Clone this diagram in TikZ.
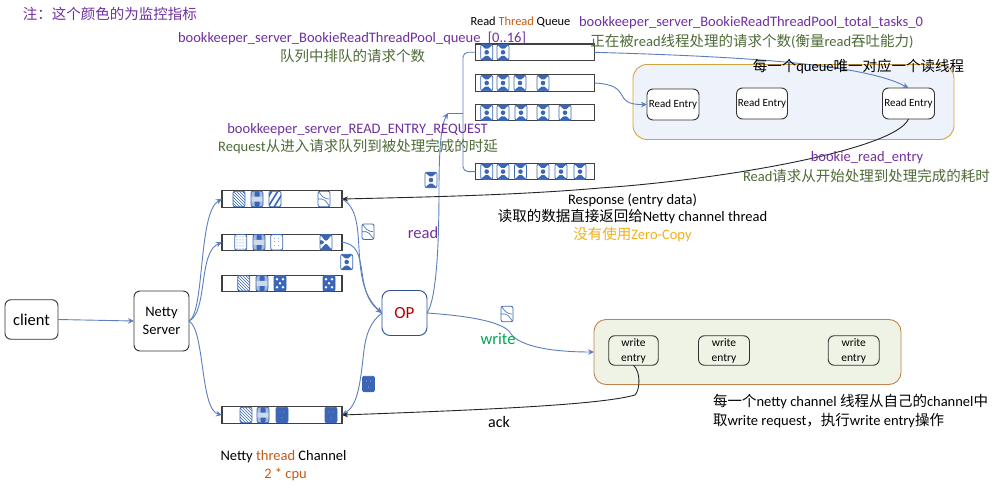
\documentclass[tikz,border=0pt]{standalone}
\usepackage{fontspec}
\setmainfont{Carlito}
\newfontfamily\cjkf{Noto Sans CJK SC}
\newcommand{\cj}[1]{{\cjkf #1}}
\usetikzlibrary{arrows.meta,patterns}
\definecolor{tokblue}{HTML}{3A66B5}
\definecolor{lineblue}{HTML}{5B7FBD}
\definecolor{mpurple}{HTML}{7030A0}
\definecolor{mgreen}{HTML}{4F6B38}
\definecolor{morange}{HTML}{C55A11}
\definecolor{mgold}{HTML}{F2B01E}
\definecolor{wgreen}{HTML}{00A651}
\definecolor{opred}{HTML}{B00000}
\definecolor{rpanelfill}{HTML}{EEF2FA}
\definecolor{rpaneldraw}{HTML}{D4A443}
\definecolor{wpanelfill}{HTML}{EEF3E6}
\definecolor{wpaneldraw}{HTML}{C8804A}
\tikzset{
  x=1pt,y=-1pt,
  flow/.style={draw=lineblue,line width=0.9pt},
  flowa/.style={flow,-{Stealth[length=6pt,width=5.5pt]}},
  back/.style={draw=black!85,line width=0.9pt},
  backa/.style={back,-{Stealth[length=6pt,width=5pt]}},
  rbox/.style={draw=black!80,line width=0.9pt,rounded corners=6pt,fill=white,inner sep=0pt,outer sep=0pt,align=center},
  qbox/.style={draw=black!75,line width=1.1pt,fill=white,inner sep=0pt,outer sep=0pt,minimum height=16.5pt},
  lq/.style={qbox,minimum width=120pt},
  rq/.style={qbox,minimum width=118.6pt},
  lab/.style={inner sep=0pt,outer sep=0pt,font=\fontsize{14.5}{17}\selectfont,align=center},
  tok/.style={draw=tokblue,line width=0.8pt,rounded corners=2pt,fill=white,inner sep=0pt,outer sep=0pt,minimum width=12pt,minimum height=15.5pt},
  tokrd/.style={tok,path picture={
     \fill[tokblue] (path picture bounding box.center) circle (2.3pt);
     \fill[tokblue] (path picture bounding box.north west) -- (path picture bounding box.north east) -- ([yshift=-5.5pt]path picture bounding box.north) -- cycle;
     \fill[tokblue] (path picture bounding box.south west) -- (path picture bounding box.south east) -- ([yshift=5.5pt]path picture bounding box.south) -- cycle;}},
  tokfine/.style={tok,pattern=north west lines,pattern color=tokblue},
  tokwide/.style={tok,path picture={
     \foreach \d in {-8,-2,4,10}{\draw[tokblue,line width=1.6pt] ([shift={(\d-5 pt,-8pt)}]path picture bounding box.center) -- ([shift={(\d+5 pt,8pt)}]path picture bounding box.center);}}},
  tokcurl/.style={tok,path picture={
     \draw[tokblue,line width=0.6pt] (path picture bounding box.north west) -- ([yshift=-7pt]path picture bounding box.north) -- ([xshift=-1pt]path picture bounding box.east) ;
     \draw[tokblue,line width=0.6pt] (path picture bounding box.west) -- (path picture bounding box.center) -- (path picture bounding box.south east);}},
  tokplaid/.style={tok,path picture={
     \fill[tokblue!45] (path picture bounding box.north west) rectangle (path picture bounding box.south east);
     \fill[tokblue] ([shift={(-2.5pt,-8pt)}]path picture bounding box.center) rectangle ([shift={(2.5pt,8pt)}]path picture bounding box.center);
     \fill[tokblue!25] ([shift={(-7pt,-2.5pt)}]path picture bounding box.center) rectangle ([shift={(7pt,2.5pt)}]path picture bounding box.center);}},
  tokdot/.style={tok,pattern=dots,pattern color=tokblue},
  toksparse/.style={tok,path picture={
     \foreach \a/\b in {-2/-3,2/-3,-2/1,2/1,-2/4,2/4}{\fill[tokblue] ([shift={(\a pt,\b pt)}]path picture bounding box.center) circle (0.45pt);}}},
  tokbow/.style={tok,path picture={
     \fill[tokblue] (path picture bounding box.north west) -- (path picture bounding box.north east) -- ([yshift=-7pt]path picture bounding box.north) -- cycle;
     \fill[tokblue] (path picture bounding box.south west) -- (path picture bounding box.south east) -- ([yshift=7pt]path picture bounding box.south) -- cycle;
     \fill[tokblue] ([yshift=-3pt]path picture bounding box.west) -- ([xshift=5pt]path picture bounding box.west) -- ([yshift=3pt]path picture bounding box.west) -- cycle;}},
  tokring/.style={tok,fill=tokblue,path picture={
     \foreach \a/\b in {-3/-4,3/-4,0/0,-3/4,3/4}{\fill[white] ([shift={(\a pt,\b pt)}]path picture bounding box.center) circle (1.4pt);}}},
  toksolid/.style={tok,fill=tokblue,path picture={
     \foreach \a/\b in {0/-3,-2/3,2/3}{\fill[white] ([shift={(\a pt,\b pt)}]path picture bounding box.center) circle (0.45pt);}}},
}
\begin{document}
\begin{tikzpicture}
\useasboundingbox[fill=white] (0,0) rectangle (999,492);

% panels
\node[draw=rpaneldraw,line width=0.9pt,fill=rpanelfill,rounded corners=14pt,minimum width=321pt,minimum height=75pt,outer sep=0pt,inner sep=0pt] (readpanel) at (793.5,102) {};
\node[draw=wpaneldraw,line width=0.9pt,fill=wpanelfill,rounded corners=12pt,minimum width=307pt,minimum height=65pt,outer sep=0pt,inner sep=0pt] (writepanel) at (747.5,352) {};

% boxes
\node[rbox,minimum width=53pt,minimum height=39.5pt,text width=46pt,font=\fontsize{16.5}{18}\selectfont] (client) at (31.5,319.5) {\raggedright client};
\node[rbox,minimum width=55pt,minimum height=60pt,font=\fontsize{14.5}{18}\selectfont] (server) at (161.5,321) {Netty\\Server};
\node[rbox,draw=tokblue!80!black,minimum width=45pt,minimum height=45pt,rounded corners=8pt,text=opred,font=\fontsize{17}{20}\selectfont] (op) at (404.5,313) {OP};

\node[rbox,minimum width=52pt,minimum height=31pt,font=\fontsize{11}{14}\selectfont] (re1) at (673,104.5) {Read Entry};
\node[rbox,minimum width=51pt,minimum height=31pt,font=\fontsize{11}{14}\selectfont] (re2) at (762,103.5) {Read Entry};
\node[rbox,minimum width=52pt,minimum height=31pt,font=\fontsize{11}{14}\selectfont] (re3) at (908.5,103.5) {Read Entry};

\node[rbox,fill=none,minimum width=49.5pt,minimum height=29.5pt,font=\fontsize{11.5}{15}\selectfont] (we1) at (633.5,350.5) {write\\entry};
\node[rbox,fill=none,minimum width=51pt,minimum height=29.5pt,font=\fontsize{11.5}{15}\selectfont] (we2) at (724,350.5) {write\\entry};
\node[rbox,fill=none,minimum width=51pt,minimum height=29.5pt,font=\fontsize{11.5}{15}\selectfont] (we3) at (853.7,350.5) {write\\entry};

% queues
\node[lq] (lq1) at (282,199) {};
\node[lq] (lq2) at (282,242.3) {};
\node[lq] (lq3) at (282,283.3) {};
\node[lq] (lq4) at (282,415) {};
\node[rq] (rq1) at (535,52.3) {};
\node[rq] (rq2) at (535,83) {};
\node[rq] (rq3) at (535,112.7) {};
\node[rq] (rq4) at (535,171.6) {};

% tokens in left queues
\node[tokfine] (a1) at (239,199) {};
\node[tokplaid] (a2) at (257,199) {};
\node[tokwide] (a3) at (275,199) {};
\node[tokcurl] (a4) at (324,199) {};
\node[tokdot] (b1) at (240.7,242.3) {};
\node[tokplaid] (b2) at (259,242.3) {};
\node[toksparse] (b3) at (276.7,242.3) {};
\node[tokbow] (b4) at (326,242.3) {};
\node[tokfine] (c1) at (243.7,283.3) {};
\node[tokplaid] (c2) at (262,283.3) {};
\node[tokring] (c3) at (280,283.3) {};
\node[tokring] (c4) at (329,283.3) {};
\node[tokfine] (d1) at (246,415) {};
\node[tokplaid] (d2) at (263,415) {};
\node[toksolid] (d3) at (282,415) {};
\node[toksolid] (d4) at (331,415) {};

% tokens in read queues
\foreach \n/\x in {1/486.7,2/503}{\node[tokrd] (e\n) at (\x,52.3) {};}
\foreach \n/\x in {1/486.7,2/503,3/520,4/543}{\node[tokrd] (f\n) at (\x,83) {};}
\foreach \n/\x in {1/486.7,2/503,3/521,4/543,5/565}{\node[tokrd] (g\n) at (\x,112.7) {};}
\foreach \n/\x in {1/486.7,2/503,3/520.5,4/543,5/561,6/580}{\node[tokrd] (h\n) at (\x,171.6) {};}

% tokens in flight
\node[tokrd] (t1) at (431,180) {};
\node[tokcurl] (t2) at (368,231.7) {};
\node[tokrd] (t3) at (346.7,262) {};
\node[toksolid] (t4) at (368.5,384) {};
\node[tokcurl] (t5) at (507,314) {};

% connectors
\coordinate (rj) at (448,113);
\coordinate (rv) at (463,113);
\draw[flowa] (client.east) -- (server.west);
\draw[flowa] (server.east) .. controls (205,312) and (198,212) .. (lq1.west);
\draw[flowa] (server.east) .. controls (208,312) and (198,252) .. (lq2.west);
\draw[flowa] (server.east) .. controls (205,330) and (200,410) .. (lq4.west);
\draw[flowa] (lq1.east) .. controls (372,215) and (345,280) .. (op.west);
\draw[flowa] (lq2.east) .. controls (372,245) and (352,290) .. (op.west);
\draw[flow,-{Stealth[length=6pt,width=5pt]}] (op.west) .. controls (370,322) and (366,335) .. (364,350) .. controls (360,385) and (358,405) .. (lq4.east);
\draw[flowa] (op.east) .. controls (436,300) and (439,250) .. (439,190) .. controls (439,150) and (441,125) .. (rj);
\draw[flow] (rj) -- (rv);
\draw[flow,rounded corners=5pt] (rv) -- (463,52.3) -- (rq1.west);
\draw[flow,rounded corners=5pt] (rv) -- (463,171.6) -- (rq4.west);
\draw[flowa] (op.east) .. controls (470,316) and (505,322) .. (511,334) .. controls (520,346) and (550,352) .. (writepanel.west);
\draw[flowa] (rq1.east) .. controls (720,56) and (860,62) .. (re3.north);
\draw[flowa] (rq2.east) .. controls (635,85) and (610,105) .. (re1.west);
\draw[backa] (re3.south) .. controls (895,150) and (720,180) .. (600,188) .. controls (520,195) and (430,197) .. (lq1.east);
\draw[backa] (we1.south) .. controls (641,372) and (640,390) .. (635,395) .. controls (600,405) and (480,410) .. (lq4.east);

% labels
\node[lab,text=mpurple] (note) at (110,14) {\cj{注：这个颜色的为监控指标}};
\node[lab,font=\fontsize{12.4}{14}\selectfont] (rtq) at (520.5,22) {Read {\color{morange}Thread} Queue};
\node[lab,text=mpurple] (m1) at (352,38) {bookkeeper\_server\_BookieReadThreadPool\_queue\_[0..16]};
\node[lab,text=mgreen] (m1b) at (352.5,56) {\cj{队列中排队的请求个数}};
\node[lab,text=mpurple] (m2) at (751,23) {bookkeeper\_server\_BookieReadThreadPool\_total\_tasks\_0};
\node[lab,text=mgreen] (m2b) at (752,41) {\cj{正在被}read\cj{线程处理的请求个数}(\cj{衡量}read\cj{吞吐能力})};
\node[lab] (one) at (858.5,67) {\cj{每一个}queue\cj{唯一对应一个读线程}};
\node[lab,text=mpurple] (m3) at (357.5,130) {bookkeeper\_server\_READ\_ENTRY\_REQUEST};
\node[lab,text=mgreen] (m3b) at (358,147) {Request\cj{从进入请求队列到被处理完成的时延}};
\node[lab,text=mpurple] (m4) at (867,158) {bookie\_read\_entry};
\node[lab,text=mgreen] (m4b) at (866.5,176) {Read\cj{请求从开始处理到处理完成的耗时}};
\node[lab] (resp) at (632.5,200) {Response (entry data)};
\node[lab] (resp2) at (632.5,217) {\cj{读取的数据直接返回给}Netty channel thread};
\node[lab,text=mgold] (resp3) at (632.5,235) {\cj{没有使用}Zero-Copy};
\node[lab,text=mpurple,font=\fontsize{16.5}{18}\selectfont] (rd) at (423,233) {read};
\node[lab,text=wgreen,font=\fontsize{16.5}{18}\selectfont] (wr) at (498,338.5) {write};
\node[lab,font=\fontsize{16}{18}\selectfont] (ack) at (499,422) {ack};
\node[lab] (ntc) at (283.5,457) {Netty {\color{morange}thread} Channel};
\node[lab,text=morange] (cpu) at (285.5,475) {2 * cpu};
\node[lab,anchor=west] (w1) at (713,402) {\cj{每一个}netty channel \cj{线程从自己的}channel\cj{中}};
\node[lab,anchor=west] (w2) at (713,421) {\cj{取}write request\cj{，执行}write entry\cj{操作}};
\end{tikzpicture}
\end{document}
